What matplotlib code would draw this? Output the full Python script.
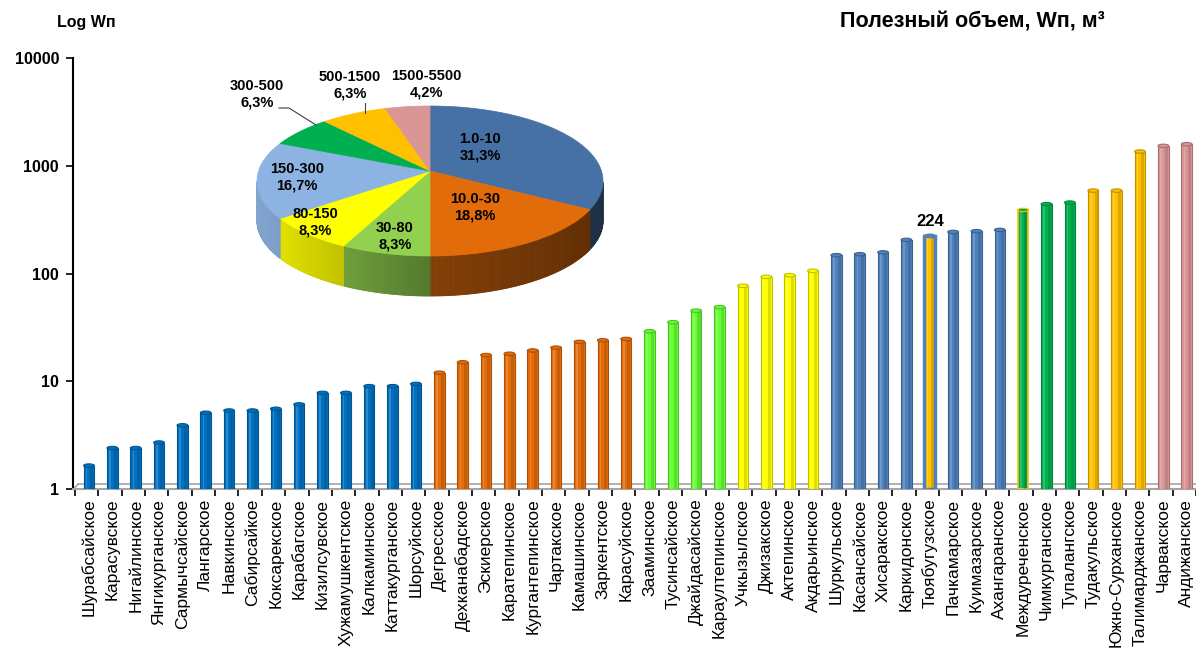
import numpy as np
import matplotlib
matplotlib.use('Agg')
import matplotlib.pyplot as plt
from matplotlib.path import Path
from matplotlib.patches import Polygon
from matplotlib.ticker import NullLocator
from matplotlib.colors import to_rgb

plt.rcParams['font.family'] = ['Liberation Sans', 'DejaVu Sans']

# reservoirs, useful volume Wп (million m3), sorted
names = ['Шурабсайское', 'Карасувское', 'Нигайлинское', 'Янгикурганское', 'Сармычсайское',
         'Лангарское', 'Навкинское', 'Сабирсайкое', 'Коксарекское', 'Карабагское',
         'Кизилсувское', 'Хужамушкентское', 'Калкаминское', 'Каттакурганское', 'Шорсуйское',
         'Дегресское', 'Дехканабадское', 'Эскиерское', 'Каратепинское', 'Кургантепинское',
         'Чартакское', 'Камашинское', 'Заркентское', 'Карасуйское', 'Зааминское',
         'Тусинсайское', 'Джайдасайское', 'Караултепинское', 'Учкызылское', 'Джизакское',
         'Актепинское', 'Акдарьинское', 'Шуркульское', 'Касансайское', 'Хисаракское',
         'Каркидонское', 'Тюябугузское', 'Пачкамарское', 'Куимазарское', 'Ахангаранское',
         'Междуреченское', 'Чимкурганское', 'Тупалангское', 'Тудакульское', 'Южно-Сурханское',
         'Талимарджанское', 'Чарвакское', 'Андижанское']
volumes = [1.65, 2.4, 2.4, 2.7, 3.9, 5.1, 5.35, 5.35, 5.55, 6.1,
           7.8, 7.8, 9.0, 9.0, 9.45, 12.0, 15.0, 17.5, 18.0, 19.3,
           20.5, 23.2, 24.0, 24.7, 29.1, 35.3, 45.2, 48.7, 77, 93,
           96.5, 106, 148, 151, 157, 205, 224, 243, 247, 254,
           389, 440, 455, 588, 588, 1355, 1530, 1586]
groups = [0] * 15 + [1] * 9 + [2] * 4 + [3] * 4 + [4] * 8 + [5] * 3 + [6] * 3 + [7] * 2
bar_colors = ['#0070C0', '#E46C0A', '#66FF33', '#FFFF00', '#4F81BD', '#00B050', '#FFC000', '#D99694']

# pie of ranges
pie_labels = ['1.0-10', '10.0-30', '30-80', '80-150', '150-300', '300-500', '500-1500', '1500-5500']
pie_counts = [15, 9, 4, 4, 8, 3, 3, 2]
pie_pct = ['31,3%', '18,8%', '8,3%', '8,3%', '16,7%', '6,3%', '6,3%', '4,2%']
pie_colors = ['#4571A5', '#E36C0A', '#92D050', '#FFFF00', '#8DB3E2', '#00B050', '#FFC000', '#D99694']
highlight = 36  # Тюябугузское, 224


def shade(c, f):
    r, g, b = to_rgb(c)
    return (r * f, g * f, b * f)


W, H = 1196, 654
fig = plt.figure(figsize=(W / 100, H / 100), dpi=100)
ax = fig.add_axes([73 / W, (H - 489) / H, (W - 73) / W, (489 - 58) / H])

x = np.arange(len(names))
vals = np.array(volumes)
face = [bar_colors[g] for g in groups]
edge = [shade(c, 0.75) for c in face]
face[highlight] = '#FFC000'
edge[highlight] = '#4F81BD'
edge[40] = '#FFC000'
lws = [0.8] * len(x)
lws[highlight] = 2.5
lws[40] = 1.2

bw = 0.45
ax.bar(x, vals - 1, bottom=1, width=bw, color=face, edgecolor=edge, linewidth=lws, zorder=3)
# cylinder shading
ax.bar(x + 0.12, vals - 1, bottom=1, width=0.13, color='black', alpha=0.13, linewidth=0, zorder=3.5)
ax.bar(x - 0.1, vals - 1, bottom=1, width=0.07, color='white', alpha=0.18, linewidth=0, zorder=3.5)

t = np.linspace(0, 2 * np.pi, 40)
cap = Path(np.column_stack([np.cos(t), 0.32 * np.sin(t)]))
cap_face = list(face)
cap_face[highlight] = '#4F81BD'
ax.scatter(x, vals, marker=cap, s=60, c=cap_face, edgecolors=edge, linewidths=0.8, zorder=4)
ax.text(highlight, volumes[highlight] * 1.15, str(volumes[highlight]), ha='center', va='bottom',
        fontsize=12, fontweight='bold', zorder=5)

# floor of the 3D plot
ax.plot([-0.45, 47.6], [1.11, 1.11], color='#A6A6A6', lw=1.2, zorder=2, clip_on=False)
ax.plot([-0.684, -0.45], [1, 1.11], color='#A6A6A6', lw=1.2, zorder=2, clip_on=False)

ax.set_yscale('log')
ax.set_ylim(1, 10000)
ax.set_xlim(-0.684, 47.35)
ax.set_yticks([1, 10, 100, 1000, 10000])
ax.set_yticklabels(['1', '10', '100', '1000', '10000'], fontweight='bold', fontsize=11.5)
ax.yaxis.set_minor_locator(NullLocator())
ax.tick_params(axis='y', length=5, width=1.2, direction='out', pad=5)

ax.set_xticks(x)
ax.set_xticklabels(names, rotation=90, fontsize=12.5)
ax.set_xticks(np.arange(-1, 48) + 0.4, minor=True)
ax.tick_params(axis='x', which='major', length=0, pad=7)
ax.tick_params(axis='x', which='minor', length=5, width=1.2, color='black')

for s in ['top', 'right']:
    ax.spines[s].set_visible(False)
ax.spines['left'].set_linewidth(1.5)
ax.spines['bottom'].set_color('#A6A6A6')
ax.spines['bottom'].set_linewidth(1.5)

fig.text(57 / W, 1 - 22 / H, 'Log Wп', fontsize=11.5, fontweight='bold', va='center')
fig.text(1105 / W, 1 - 22 / H, 'Полезный объем, Wп, м³', fontsize=15.5, fontweight='bold',
         va='center', ha='right')

# 3D pie drawn in pixel coordinates
pax = fig.add_axes([0, 0, 1, 1], zorder=5)
pax.set_xlim(0, W)
pax.set_ylim(H, 0)
pax.axis('off')
cx, cy, rx, ry, depth = 430, 181, 173, 75, 40
fr = np.array(pie_counts) / sum(pie_counts)
ends = 90 - 360 * np.cumsum(fr)
starts = np.concatenate([[90], ends[:-1]])

# rim first
for i in range(len(fr)):
    th = np.linspace(starts[i], ends[i], 120)
    th = th[np.sin(np.radians(th)) <= 0.0001]
    for a0, a1 in zip(th[:-1], th[1:]):
        xs = cx + rx * np.cos(np.radians([a0, a1]))
        ys = cy - ry * np.sin(np.radians([a0, a1]))
        f = np.interp(xs.mean(), [257, 355, 430, 602], [0.92, 0.74, 0.58, 0.42])
        col = shade(pie_colors[i], f)
        pax.add_patch(Polygon([(xs[0], ys[0]), (xs[1], ys[1]), (xs[1], ys[1] + depth),
                               (xs[0], ys[0] + depth)], closed=True, fc=col, ec=col, lw=0.6))

for i in range(len(fr)):
    th = np.radians(np.linspace(starts[i], ends[i], 100))
    pts = [(cx, cy - 10)] + list(zip(cx + rx * np.cos(th), cy - ry * np.sin(th)))
    pax.add_patch(Polygon(pts, closed=True, fc=pie_colors[i], ec=pie_colors[i], lw=0.5))

pie_text_pos = [(480, 147), (475, 207), (395, 236), (315, 222), (297, 177),
                (257, 94), (350, 85), (426, 84)]
for lab, pct, (tx, ty) in zip(pie_labels, pie_pct, pie_text_pos):
    pax.text(tx, ty, lab + '\n' + pct, ha='center', va='center', fontsize=10.5,
             fontweight='bold', linespacing=1.25)
pax.plot([279, 289, 316], [108, 108, 125], color='#404040', lw=0.8)
pax.plot([365, 365], [103, 113], color='#404040', lw=0.8)

fig.savefig('out.png', dpi=100)
